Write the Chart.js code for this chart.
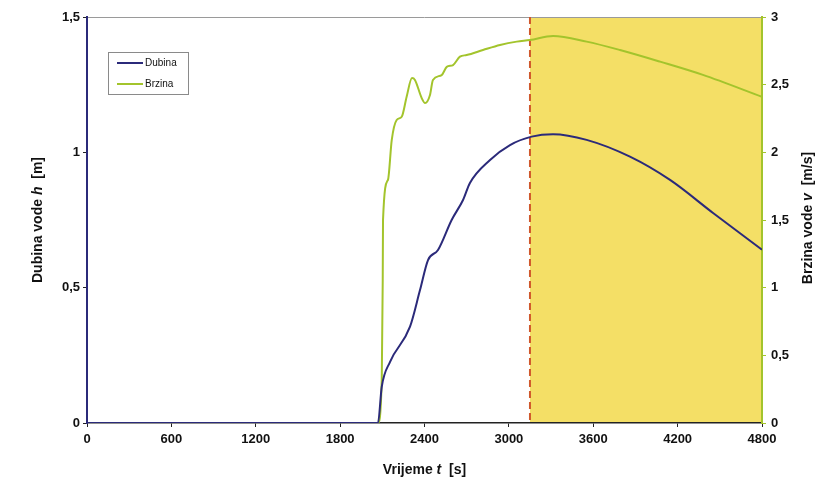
<!DOCTYPE html>
<html>
<head>
<meta charset="utf-8">
<script src="https://cdn.jsdelivr.net/npm/chart.js@4.4.1/dist/chart.umd.min.js"></script>
<style>
  html, body { margin: 0; padding: 0; background: #fff; }
  #wrap { width: 826px; height: 484px; }
</style>
</head>
<body>
<div id="wrap"><canvas id="chart" width="826" height="484"></canvas></div>
<script>
// depth h [m] over time t [s]
const tDubina = [0, 2069, 2096, 2155, 2297, 2368, 2425, 2496, 2593, 2674, 2723, 2866, 3008, 3162, 3314, 3553, 3861, 4146, 4452, 4800];
const dubina  = [0, 0, 0.134, 0.226, 0.356, 0.491, 0.602, 0.639, 0.750, 0.824, 0.887, 0.972, 1.027, 1.058, 1.067, 1.046, 0.984, 0.898, 0.776, 0.64];

// velocity v [m/s] over time t [s]
const tBrzina = [0, 2069, 2096, 2103, 2105, 2140, 2167, 2202, 2238, 2273, 2311, 2332, 2380, 2404, 2439, 2460, 2522, 2558, 2603, 2652, 2700, 2816, 2937, 3056, 3150, 3314, 3553, 3790, 4075, 4380, 4800];
const brzina  = [0, 0, 0.318, 1.057, 1.50, 1.796, 2.091, 2.239, 2.263, 2.411, 2.549, 2.535, 2.401, 2.364, 2.424, 2.535, 2.571, 2.631, 2.645, 2.707, 2.719, 2.756, 2.793, 2.818, 2.830, 2.860, 2.818, 2.756, 2.670, 2.572, 2.41];

const xTicks = [0, 600, 1200, 1800, 2400, 3000, 3600, 4200, 4800];
const hTicks = [0, 0.5, 1, 1.5];
const vTicks = [0, 0.5, 1, 1.5, 2, 2.5, 3];

// start of shaded (yellow) interval
const shadeStart = 3150;
const shadeEnd = 4800;

const navy = '#2b2a7a';
const green = '#a3c42c';
const font = "'Liberation Sans', Arial, sans-serif";

const comma = v => String(v).replace('.', ',');

const decorPlugin = {
  id: 'decor',
  beforeDraw(chart) {
    const {ctx, chartArea: a, scales: {x}} = chart;
    const x0 = x.getPixelForValue(shadeStart);
    const x1 = x.getPixelForValue(shadeEnd);
    ctx.save();
    ctx.fillStyle = '#f4df66';
    ctx.fillRect(x0, a.top, x1 - x0, a.bottom - a.top);
    // top border
    ctx.strokeStyle = '#9a9a9a';
    ctx.lineWidth = 1;
    ctx.beginPath();
    ctx.moveTo(a.left, a.top + 0.5);
    ctx.lineTo(a.right, a.top + 0.5);
    ctx.stroke();
    ctx.restore();
  },
  beforeDatasetsDraw(chart) {
    const {ctx, chartArea: a, scales: {x}} = chart;
    const x0 = x.getPixelForValue(shadeStart);
    ctx.save();
    // dashed marker
    ctx.strokeStyle = '#d0582c';
    ctx.lineWidth = 2;
    ctx.setLineDash([7, 4]);
    ctx.beginPath();
    ctx.moveTo(x0, a.top);
    ctx.lineTo(x0, a.bottom);
    ctx.stroke();
    ctx.restore();
  },
  afterDraw(chart) {
    const {ctx, chartArea: a} = chart;
    ctx.save();
    // legend box
    ctx.fillStyle = '#fff';
    ctx.fillRect(108, 52, 80, 42);
    ctx.strokeStyle = '#8a8a8a';
    ctx.lineWidth = 1;
    ctx.strokeRect(108.5, 52.5, 80, 42);
    ctx.font = '10px ' + font;
    ctx.textBaseline = 'middle';
    chart.data.datasets.forEach((ds, i) => {
      const y = 63 + i * 21;
      ctx.strokeStyle = ds.borderColor;
      ctx.lineWidth = 2;
      ctx.beginPath();
      ctx.moveTo(117, y);
      ctx.lineTo(143, y);
      ctx.stroke();
      ctx.fillStyle = '#111';
      ctx.fillText(ds.label, 145, y);
    });

    // axis titles with italic symbol
    const drawTitle = (parts, cx, cy, rot) => {
      ctx.save();
      ctx.translate(cx, cy);
      ctx.rotate(rot);
      let w = 0;
      parts.forEach(p => { ctx.font = p[1] + ' 14px ' + font; w += ctx.measureText(p[0]).width; });
      let px = -w / 2;
      ctx.fillStyle = '#111';
      ctx.textBaseline = 'middle';
      ctx.textAlign = 'left';
      parts.forEach(p => {
        ctx.font = p[1] + ' 14px ' + font;
        ctx.fillText(p[0], px, 0);
        px += ctx.measureText(p[0]).width;
      });
      ctx.restore();
    };
    drawTitle([['Vrijeme ', 'bold'], ['t', 'italic bold'], ['  [s]', 'bold']], (a.left + a.right) / 2, 470, 0);
    drawTitle([['Dubina vode ', 'bold'], ['h', 'italic bold'], ['  [m]', 'bold']], 38, 220, -Math.PI / 2);
    drawTitle([['Brzina vode ', 'bold'], ['v', 'italic bold'], ['  [m/s]', 'bold']], 808, 218, -Math.PI / 2);
    ctx.restore();
  }
};

const tickFont = {family: font, size: 13, weight: 'bold'};

new Chart(document.getElementById('chart'), {
  type: 'line',
  data: {
    datasets: [{
      label: 'Dubina',
      data: tDubina.map((t, i) => ({x: t, y: dubina[i]})),
      borderColor: navy,
      borderWidth: 2,
      pointRadius: 0,
      cubicInterpolationMode: 'monotone',
      yAxisID: 'y'
    }, {
      label: 'Brzina',
      data: tBrzina.map((t, i) => ({x: t, y: brzina[i]})),
      borderColor: green,
      borderWidth: 2,
      pointRadius: 0,
      cubicInterpolationMode: 'monotone',
      yAxisID: 'y1'
    }]
  },
  options: {
    responsive: false,
    animation: false,
    events: [],
    layout: {padding: {top: 17, left: 0, right: 0, bottom: 0}},
    plugins: {legend: {display: false}, tooltip: {enabled: false}},
    scales: {
      x: {
        type: 'linear',
        min: 0, max: 4800,
        afterBuildTicks: s => { s.ticks = xTicks.map(v => ({value: v})); },
        afterFit: s => { s.height = 61; },
        ticks: {font: tickFont, color: '#111', padding: 5, maxRotation: 0, callback: v => String(v)},
        grid: {drawOnChartArea: false, tickLength: 4, color: '#222'},
        border: {color: '#222', width: 1.5}
      },
      y: {
        position: 'left',
        min: 0, max: 1.5,
        afterBuildTicks: s => { s.ticks = hTicks.map(v => ({value: v})); },
        afterFit: s => { s.width = 87; },
        ticks: {font: tickFont, color: '#111', padding: 3, callback: comma},
        grid: {drawOnChartArea: false, tickLength: 4, color: '#222'},
        border: {color: navy, width: 2}
      },
      y1: {
        position: 'right',
        min: 0, max: 3,
        afterBuildTicks: s => { s.ticks = vTicks.map(v => ({value: v})); },
        afterFit: s => { s.width = 64; },
        ticks: {font: tickFont, color: '#111', padding: 5, callback: comma},
        grid: {drawOnChartArea: false, tickLength: 4, color: green},
        border: {color: green, width: 2}
      }
    }
  },
  plugins: [decorPlugin]
});
</script>
</body>
</html>
